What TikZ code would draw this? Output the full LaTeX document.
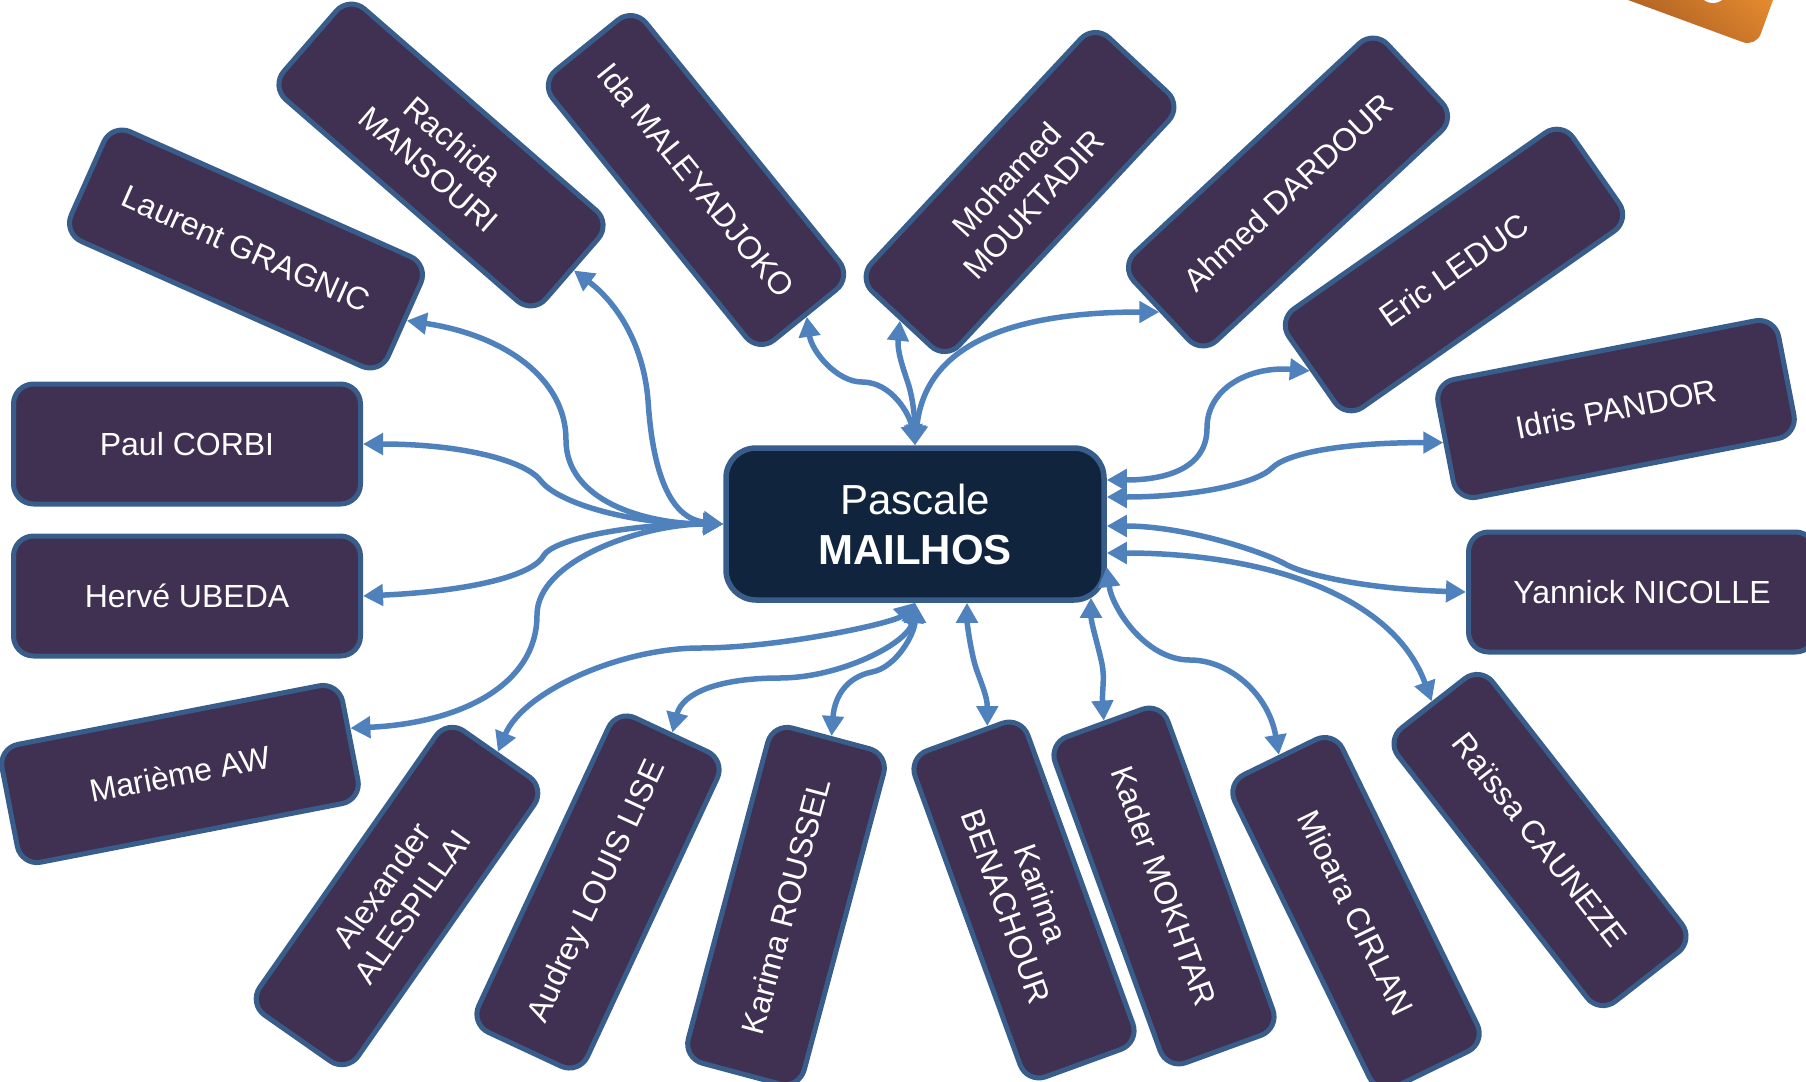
\documentclass[tikz,border=0pt]{standalone}
\usepackage{fontspec}
\setmainfont{Liberation Sans}
\usetikzlibrary{arrows.meta,calc}
\definecolor{boxf}{HTML}{403152}
\definecolor{bord}{HTML}{385D8A}
\definecolor{ctrf}{HTML}{10243E}
\definecolor{conn}{HTML}{4F81BD}
\definecolor{oraL}{HTML}{E3892F}
\definecolor{oraD}{HTML}{98501E}
\begin{document}
\begin{tikzpicture}[x=1pt,y=-1pt,
  >={Triangle[length=20pt,width=21pt]},
  person/.style={draw=bord, fill=boxf, line width=5pt, rounded corners=20pt,
    minimum width=347pt, minimum height=120pt, inner sep=0pt, text=white,
    align=center, font=\fontsize{32pt}{37pt}\selectfont},
  centre/.style={draw=bord, fill=ctrf, line width=5.5pt, rounded corners=30pt,
    minimum width=378pt, minimum height=152pt, inner sep=0pt, text=white,
    align=center, font=\fontsize{42pt}{50pt}\selectfont},
  link/.style={draw=conn, line width=5.5pt, <->}]
\useasboundingbox (0,0) rectangle (1806,1081);
\clip (0,0) rectangle (1806,1081);

% orange shape at the top right corner
\shade[top color=oraL, bottom color=oraD, shading angle=-40, rounded corners=14pt]
  (1560,-25) -- (1756,47) -- (1782,-25) -- cycle;
\fill[white] (1713,-12) circle (15);

% centre
\node[centre] (ctr) at (915,524) {Pascale\\\textbf{MAILHOS}};

% people
\node[person, rotate=-24] (lau) at (246,249) {Laurent GRAGNIC};
\node[person, rotate=-41] (rac) at (441,155) {Rachida\\MANSOURI};
\node[person, rotate=-51] (ida) at (696,180) {Ida MALEYADJOKO};
\node[person, rotate=47] (moh) at (1020,192) {Mohamed\\MOUKTADIR};
\node[person, rotate=43] (ahm) at (1288,192) {Ahmed DARDOUR};
\node[person, rotate=35] (eri) at (1454,270) {Eric LEDUC};
\node[person, rotate=11] (idr) at (1616,409) {Idris PANDOR};
\node[person] (yan) at (1642,592) {Yannick NICOLLE};
\node[person, rotate=-52] (rai) at (1540,840) {Raïssa CAUNEZE};
\node[person, rotate=-64] (mio) at (1356,913) {Mioara CIRLAN};
\node[person, rotate=-70] (kad) at (1164,886) {Kader MOKHTAR};
\node[person, rotate=-70] (kbe) at (1024,900) {Karima\\BENACHOUR};
\node[person, rotate=75] (kro) at (786,906) {Karima ROUSSEL};
\node[person, rotate=65] (aud) at (598,892) {Audrey LOUIS LISE};
\node[person, rotate=55] (ale) at (397,896) {Alexander\\ALESPILLAI};
\node[person, rotate=11] (mar) at (180,774) {Marième AW};
\node[person] (pau) at (187,444) {Paul CORBI};
\node[person] (her) at (187,596) {Hervé UBEDA};

% connector end points
\coordinate (c-kbe) at ($(ctr.south)+(52,0)$);
\coordinate (c-kad) at ($(ctr.south)+(176,-5)$);
\coordinate (c-mio) at ($(ctr.east)+(0,43)$);
\coordinate (c-rai) at ($(ctr.east)+(0,29)$);
\coordinate (c-yan) at ($(ctr.east)+(0,2)$);
\coordinate (c-idr) at ($(ctr.east)+(0,-27)$);
\coordinate (c-eri) at ($(ctr.east)+(0,-44)$);
\coordinate (t-kbe) at ($(kbe.south west)!0.7!(kbe.north west)$);
\coordinate (t-mar) at ($(mar.east)!0.2!(mar.north east)$);

% connectors
\draw[link] (lau.east) .. controls +(100,15) and +(0,-60) .. (566,440) .. controls +(0,60) and +(-80,0) .. (ctr.west);
\draw[link] (rac.east) .. controls +(40,30) and +(-5,-60) .. (648,400) .. controls +(5,80) and +(-50,-5) .. (ctr.west);
\draw[link] (pau.east) .. controls +(100,0) and +(-15,-20) .. (541,481) .. controls +(15,20) and +(-100,0) .. (ctr.west);
\draw[link] (her.east) .. controls +(110,-5) and +(-10,20) .. (544,555) .. controls +(10,-15) and +(-100,0) .. (ctr.west);
\draw[link] (t-mar) .. controls +(110,-5) and +(0,70) .. (537,615) .. controls +(0,-55) and +(-80,0) .. (ctr.west);
\draw[link] (ale.east) .. controls +(25,-60) and +(-80,0) .. (700,648) .. controls +(80,0) and +(-20,20) .. (ctr.south);
\draw[link] (aud.east) .. controls +(10,-40) and +(-60,0) .. (780,678) .. controls +(60,0) and +(-5,40) .. (ctr.south);
\draw[link] (kro.east) .. controls +(3,-40) and +(-25,5) .. (872,672) .. controls +(25,-5) and +(0,30) .. (ctr.south);
\draw[link] (t-kbe) .. controls +(0,-30) and +(5,15) .. (976,668) .. controls +(-5,-15) and +(0,20) .. (c-kbe);
\draw[link] (kad.west) .. controls +(-2,-30) and +(3,15) .. (1102,664) .. controls +(-3,-15) and +(0,25) .. (c-kad);
\draw[link] (mio.west) .. controls +(-10,-60) and +(40,0) .. (1190,660) .. controls +(-45,0) and +(5,40) .. (c-mio);
\draw[link] (rai.west) .. controls +(-40,-110) and +(150,0) .. (c-rai);
\draw[link] (yan.west) .. controls +(-100,-3) and +(20,10) .. (1287,565) .. controls +(-20,-12) and +(80,0) .. (c-yan);
\draw[link] (idr.west) .. controls +(-100,0) and +(15,-15) .. (1272,468) .. controls +(-15,15) and +(90,0) .. (c-idr);
\draw[link] (eri.west) .. controls +(-60,-5) and +(0,-40) .. (1207,428) .. controls +(0,40) and +(60,0) .. (c-eri);
\draw[link] (ahm.west) .. controls +(-150,0) and +(10,-100) .. (ctr.north);
\draw[link] (moh.west) .. controls +(-3,30) and +(-5,-15) .. (908,383) .. controls +(5,15) and +(0,-25) .. (ctr.north);
\draw[link] (ida.east) .. controls +(5,35) and +(-25,0) .. (862,382) .. controls +(30,0) and +(-5,-30) .. (ctr.north);
\end{tikzpicture}
\end{document}
